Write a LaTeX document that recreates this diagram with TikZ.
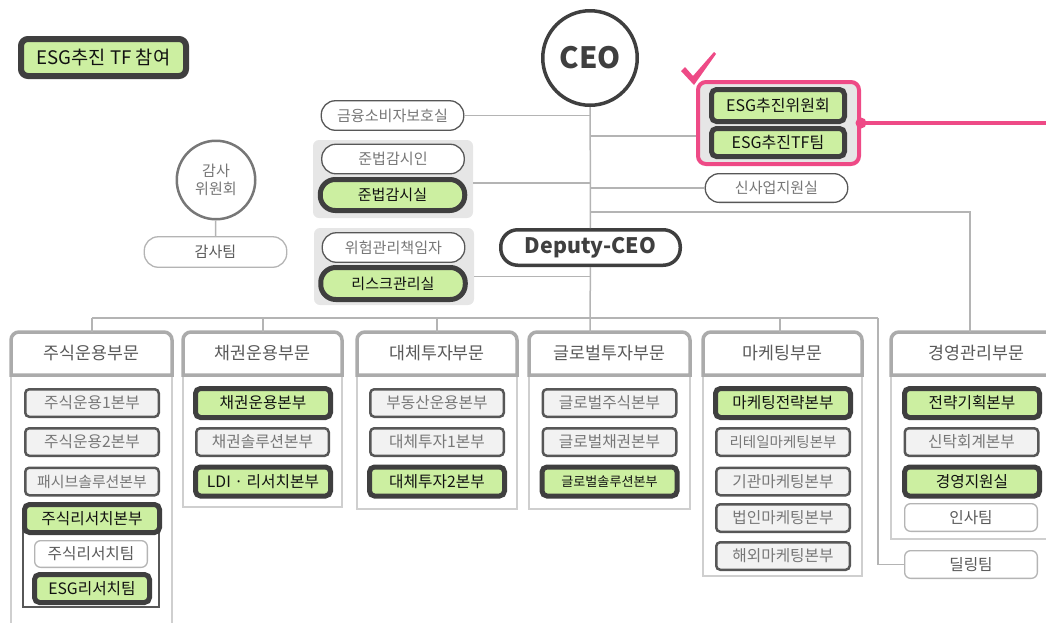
\documentclass[tikz,border=0pt]{standalone}
\usepackage{fontspec}
\setmainfont{Noto Sans CJK KR}
\usetikzlibrary{positioning}
\usetikzlibrary{calc}
\usetikzlibrary{math}

\definecolor{esggreen}{HTML}{CCEFA1}
\definecolor{boxdark}{HTML}{3F3F3F}
\definecolor{itemedge}{HTML}{575757}
\definecolor{itemfill}{HTML}{F2F2F2}
\definecolor{headedge}{HTML}{ABABAB}
\definecolor{bodyedge}{HTML}{CFCFCF}
\definecolor{linkgray}{HTML}{B4B4B4}
\definecolor{textgray}{HTML}{777777}
\definecolor{textmid}{HTML}{5A5A5A}
\definecolor{textdark}{HTML}{111111}
\definecolor{groupfill}{HTML}{E6E6E6}
\definecolor{esgpink}{HTML}{EE4A86}

\newdimen\pxu
\pxu=0.75pt

\newcommand{\itemfont}{\fontsize{11.8}{13}\selectfont}
\newcommand{\pillfont}{\fontsize{11.3}{12}\selectfont}
\newcommand{\headfont}{\fontsize{13}{14}\selectfont}

\begin{document}
\begin{tikzpicture}[
  x=0.75pt, y=-0.75pt,
  every node/.style={inner sep=0pt, align=center},
  link/.style={draw=linkgray, line width=1.5\pxu},
  greenbox/.style={draw=boxdark, fill=esggreen, line width=5\pxu, rounded corners=5\pxu,
    minimum width=135\pxu, minimum height=29\pxu, text=textdark, font=\itemfont},
  graybox/.style={draw=itemedge, fill=itemfill, line width=2.5\pxu, rounded corners=4\pxu,
    minimum width=133.5\pxu, minimum height=27.5\pxu, text=textgray, font=\itemfont},
  whitebox/.style={draw=linkgray, fill=white, line width=1.3\pxu, rounded corners=6\pxu,
    minimum width=132.7\pxu, minimum height=27.7\pxu, text=textmid, font=\itemfont},
  pill/.style={draw=itemedge, fill=white, line width=1.3\pxu, rounded corners=14\pxu,
    minimum width=142.5\pxu, minimum height=29.5\pxu, text=textgray, font=\pillfont},
  greenpill/.style={draw=boxdark, fill=esggreen, line width=5\pxu, rounded corners=15\pxu,
    minimum width=144.5\pxu, minimum height=31\pxu, text=textdark, font=\pillfont},
  groupbox/.style={fill=groupfill, rounded corners=6\pxu},
  headline/.style={draw=headedge, line width=3.5\pxu, fill=white},
  bodyline/.style={draw=bodyedge, line width=2.5\pxu},
  headtext/.style={text=textmid, font=\headfont},
  ]

  \tikzmath{
    \trunkx  = 590;   % x of the line below the CEO
    \busy    = 318;   % y of the line over the divisions
    \headtop = 332;   % top of the division headers
    \headbot = 375;   % bottom of the division headers
    \rowa    = 403;   % rows of the units
    \rowb    = 442;
    \rowc    = 481.5;
    \rowd    = 518;
    \rowe    = 556;
  }

  \useasboundingbox (0,0) rectangle (1046,622);
  \clip (0,0) rectangle (1046,622);

  % Grey groups behind the staff offices
  \node[groupbox, minimum width=160\pxu, minimum height=78\pxu] (compgrp) at (393,179) {};
  \node[groupbox, minimum width=160\pxu, minimum height=77\pxu] (riskgrp) at (394,266.5) {};
  \node[draw=esgpink, fill=groupfill, line width=4\pxu, rounded corners=8\pxu,
    minimum width=161\pxu, minimum height=82\pxu] (esggrp) at (778.5,123) {};

  % Division frames
  \foreach \name/\xa/\xb/\bot/\dx/\title in {
      stock/11/172/640/92/주식운용부문,
      bond/183/342/507/263/채권운용부문,
      alt/357/517/509/437/대체투자부문,
      global/529/690/509/590/글로벌투자부문,
      mkt/703/862/576/780/마케팅부문,
      mgmt/891/1062/539/970/경영관리부문}{
    \draw[bodyline] (\xa,\headbot) -- (\xa,\bot) -- (\xb,\bot) -- (\xb,\headbot);
    \draw[headline] (\xa,\headbot) -- (\xa,\headtop+8)
      arc[start angle=180, end angle=270, radius=8] -- (\xb-8,\headtop)
      arc[start angle=270, end angle=360, radius=8] -- (\xb,\headbot) -- cycle;
    \node[headtext] (\name) at ({(\xa+\xb)/2},{(\headtop+\headbot)/2}) {\title};
    \coordinate (\name-top) at (\dx,\headtop);
  }

  % Top of the chart
  \node[draw=boxdark, fill=white, circle, line width=3.5\pxu, minimum size=94.5\pxu,
    text=boxdark, font=\fontsize{22}{22}\bfseries] (ceo) at (\trunkx,58) {CEO};
  \node[draw=boxdark, fill=white, line width=3.5\pxu, rounded corners=17\pxu,
    minimum width=179.5\pxu, minimum height=35.5\pxu, text=boxdark,
    font=\fontsize{16}{16}\bfseries] (deputy) at (590.5,247.5) {Deputy-CEO};

  \node[greenbox, line width=6\pxu, rounded corners=7\pxu, minimum width=165\pxu,
    minimum height=37\pxu, font=\fontsize{14}{15}\selectfont] (legend) at (103.5,57.5) {ESG추진 TF 참여};

  % Staff offices
  \node[pill] (fin) at (392.5,115.5) {금융소비자보호실};
  \node[pill] (compofficer) at (393,159) {준법감시인};
  \node[greenpill] (comp) at (392.5,195) {준법감시실};
  \node[pill] (riskofficer) at (393.5,247.5) {위험관리책임자};
  \node[greenpill, minimum height=32\pxu] (risk) at (393,283.5) {리스크관리실};
  \node[draw=textgray, fill=white, circle, line width=2.5\pxu, minimum size=78.5\pxu,
    text=textgray, font=\fontsize{11.3}{14}\selectfont] (audit) at (216,180) {감사\\위원회};
  \node[pill, draw=linkgray, text=textmid, minimum height=30.5\pxu] (auditteam) at (215.5,252) {감사팀};

  % ESG task force
  \node[greenbox, minimum width=133\pxu, minimum height=32\pxu, font=\fontsize{12}{13}\selectfont] (esgcom) at (778,105.5) {ESG추진위원회};
  \node[greenbox, minimum width=133\pxu, minimum height=28\pxu, font=\fontsize{12}{13}\selectfont] (esgtf) at (778,142.5) {ESG추진TF팀};
  \node[pill, minimum height=28.7\pxu] (sinsa) at (776.5,188) {신사업지원실};
  \fill[esgpink] (681,71) -- (685,67) -- (693,76) -- (714,52) -- (716,54) -- (694,85) -- cycle;

  % 주식운용부문
  \node[graybox] (stock1) at (92,\rowa) {주식운용1본부};
  \node[graybox] (stock2) at (92,\rowb) {주식운용2본부};
  \node[graybox, font=\fontsize{11.2}{12}\selectfont] (passive) at (92,\rowc) {패시브솔루션본부};
  \node[draw=itemedge, line width=2\pxu, minimum width=136\pxu, minimum height=89\pxu] (resframe) at (91,562.5) {};
  \node[greenbox, minimum height=28\pxu] (stockres) at (92,518.5) {주식리서치본부};
  \node[whitebox, minimum width=112.7\pxu, minimum height=26.7\pxu] (resteam) at (91,554) {주식리서치팀};
  \node[greenbox, minimum width=115\pxu, minimum height=28\pxu] (esgres) at (92,588.5) {ESG리서치팀};

  % 채권운용부문
  \node[greenbox] (bondmgmt) at (263,\rowa) {채권운용본부};
  \node[graybox, minimum width=132.5\pxu] (bondsol) at (262.5,\rowb) {채권솔루션본부};
  \node[greenbox] (ldi) at (263,\rowc) {LDI · 리서치본부};

  % 대체투자부문
  \node[graybox] (realestate) at (437,\rowa) {부동산운용본부};
  \node[graybox] (alt1) at (437,\rowb) {대체투자1본부};
  \node[greenbox] (alt2) at (437,\rowc) {대체투자2본부};

  % 글로벌투자부문
  \node[graybox] (gstock) at (609.5,\rowa) {글로벌주식본부};
  \node[graybox] (gbond) at (609.5,\rowb) {글로벌채권본부};
  \node[greenbox, font=\fontsize{9.8}{11}\selectfont] (gsol) at (609.5,\rowc) {글로벌솔루션본부};

  % 마케팅부문
  \node[greenbox] (mktplan) at (783,\rowa) {마케팅전략본부};
  \node[graybox, font=\fontsize{10.9}{12}\selectfont] (retail) at (783,\rowb) {리테일마케팅본부};
  \node[graybox] (inst) at (783,\rowc) {기관마케팅본부};
  \node[graybox] (corp) at (783,\rowd) {법인마케팅본부};
  \node[graybox] (overseas) at (783,\rowe) {해외마케팅본부};

  % 경영관리부문
  \node[greenbox] (strategy) at (972,\rowa) {전략기획본부};
  \node[graybox] (trust) at (971.5,\rowb) {신탁회계본부};
  \node[greenbox] (support) at (972,\rowc) {경영지원실};
  \node[whitebox] (hr) at (971,517.5) {인사팀};
  \node[whitebox] (dealing) at (971,564.5) {딜링팀};

  % Connectors
  \coordinate (esg-in) at ([yshift=-9.75pt]esggrp.west);
  \coordinate (comp-in) at ([yshift=-3pt]compgrp.east);
  \coordinate (risk-in) at ([yshift=-7.5pt]riskgrp.east);
  \coordinate (mgmt-in) at (\trunkx,212);
  \coordinate (bus-w) at (92,\busy);
  \coordinate (bus-e) at (878,\busy);
  \coordinate (pink-end) at (1050,121);

  \draw[link] (ceo) -- (deputy);
  \draw[link] (deputy) -- (global-top);
  \draw[link] (fin) -- (fin -| ceo);
  \draw[link] (esg-in -| ceo) -- (esg-in);
  \draw[link] (comp-in) -- (comp-in -| ceo);
  \draw[link] (risk-in) -- (risk-in -| ceo);
  \draw[link] (sinsa.west -| ceo) -- (sinsa.west);
  \draw[link] (mgmt-in) -| (mgmt-top);
  \draw[link] (bus-w) -- (bus-e);
  \foreach \d in {stock,bond,alt,mkt}
    \draw[link] (\d-top |- bus-w) -- (\d-top);
  \draw[link] (bus-e) |- (dealing);
  \draw[link] (audit) -- (auditteam);

  % Pink marker to the right
  \draw[esgpink, line width=4\pxu] (esggrp.east) -- (esggrp.east -| pink-end);
  \fill[esgpink] (esggrp.east) circle (5.5);

\end{tikzpicture}
\end{document}
